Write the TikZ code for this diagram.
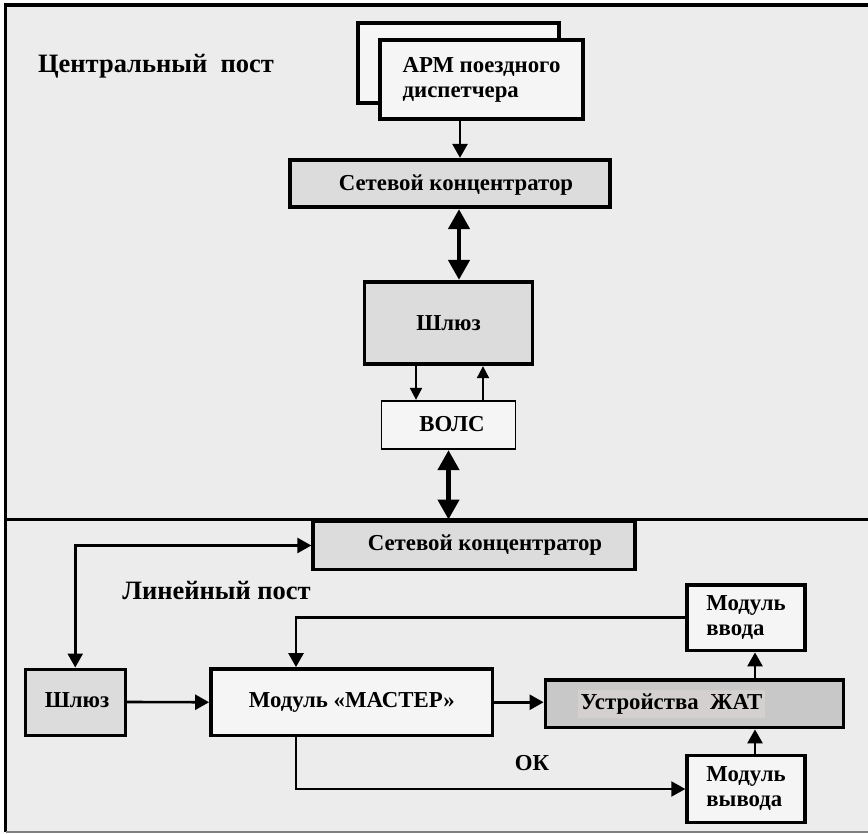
\documentclass[tikz,border=0pt]{standalone}
\usepackage{fontspec}
\setmainfont{Liberation Serif}
\usetikzlibrary{arrows.meta}
\definecolor{panel}{HTML}{ECECEC}
\definecolor{light}{HTML}{F5F5F5}
\definecolor{hubfill}{HTML}{DCDCDC}
\definecolor{jatfill}{HTML}{C8C8C8}
\definecolor{jathl}{HTML}{D4D0CF}
\definecolor{rimgray}{HTML}{808080}
\begin{document}
\begin{tikzpicture}[x=1pt,y=-1pt,
  every node/.style={font=\fontsize{22.8}{25}\selectfont\bfseries, inner sep=0pt},
  heading/.style={font=\fontsize{26.5}{30}\selectfont\bfseries},
  blk/.style={draw, line width=3.8pt},
  thinblk/.style={draw, line width=1.8pt},
  conn/.style={line width=2.6pt, -{Triangle[length=14pt,width=15pt]}},
  conn2/.style={line width=2pt, -{Triangle[length=14pt,width=15pt]}},
  small/.style={line width=2pt, -{Triangle[length=12pt,width=12pt]}},
  bigdbl/.style={line width=4.5pt, {Triangle[length=20pt,width=21pt]}-{Triangle[length=20pt,width=21pt]}},
  dbl/.style={line width=2.6pt, {Triangle[length=14pt,width=15pt]}-{Triangle[length=14pt,width=15pt]}}]
\useasboundingbox (0,0) rectangle (868,834);

% panels of the two posts
\fill[panel] (6,5) rectangle (868,832);
\draw[line width=3.5pt, line join=miter] (868,5) -- (5.5,5) -- (5.5,832);
\draw[line width=2pt, rimgray] (5.5,832) -- (868,832);
\coordinate (divl) at (6,519.5);
\coordinate (divr) at (868,519.5);
\draw[line width=3pt] (divl) -- (divr);

% central post
\node[heading] (centr) at (156,66) {Центральный\ \ пост};
\node[blk, fill=light, minimum width=201pt, minimum height=80.5pt] (armback) at (458.5,63) {};
\node[blk, fill=light, minimum width=203pt, minimum height=79pt, align=left] (arm) at (481.5,79.5) {АРМ поездного\\диспетчера};
\node[blk, fill=hubfill, minimum width=320pt, minimum height=47.5pt] (hub1) at (450,183.5) {};
\node (hub1lbl) at (456,185) {Сетевой концентратор};
\node[blk, fill=hubfill, minimum width=168pt, minimum height=82.5pt] (gw1) at (448.5,323) {Шлюз};
\node[thinblk, fill=light, minimum width=134pt, minimum height=48.5pt] (volc) at (448.5,425) {};
\node (volclbl) at (452,424) {ВОЛС};

\draw[conn] ([xshift=-21.5pt]arm.south) -- ([xshift=-21.5pt]arm.south |- hub1.north);
\draw[bigdbl] ([xshift=9pt]hub1.south) -- ([xshift=9pt]hub1.south |- gw1.north);
\draw[small] ([xshift=-32.5pt]gw1.south) -- ([xshift=-32.5pt]gw1.south |- volc.north);
\draw[small] ([xshift=34.5pt]gw1.south |- volc.north) -- ([xshift=34.5pt]gw1.south);
\draw[bigdbl] (volc.south) -- (volc.south |- divl);

% line post
\node[blk, fill=hubfill, minimum width=321.5pt, minimum height=48pt] (hub2) at (474,545.5) {};
\node (hub2lbl) at (485,545) {Сетевой концентратор};
\node[heading] (linlbl) at (216.5,591) {Линейный пост};
\node[blk, line width=3pt, fill=hubfill, minimum width=100.5pt, minimum height=66pt] (gw2) at (75.25,702) {};
\node (gw2lbl) at (77,700) {Шлюз};
\node[blk, fill=light, minimum width=281.5pt, minimum height=66.5pt] (master) at (351.75,702.25) {Модуль «МАСТЕР»};
\node[blk, fill=jatfill, minimum width=298pt, minimum height=47.5pt] (jat) at (694.5,703.75) {};
\node[fill=jathl, inner xsep=3pt, inner ysep=4pt] (jatlbl) at (671.5,704) {Устройства\ \ ЖАТ};
\node[blk, fill=light, minimum width=117.5pt, minimum height=65.5pt, align=left] (vvod) at (746,617.75) {Модуль\\ввода};
\node[blk, fill=light, minimum width=117.5pt, minimum height=67pt, align=left] (vyvod) at (746,789) {Модуль\\вывода};
\node (ok) at (532,763) {ОК};

\draw[dbl] (gw2.north) |- (hub2.west);
\draw[conn] (gw2.east) -- (master.west);
\draw[conn] (master.east) -- (master.east -| jat.west);
\draw[conn] (vvod.west) -| ([xshift=-55.75pt]master.north);
\draw[conn2] ([xshift=-55.75pt]master.south) |- (vyvod.west);
\draw[conn] ([xshift=9pt]vvod.south |- jat.north) -- ([xshift=9pt]vvod.south);
\draw[conn] ([xshift=9pt]vyvod.north) -- ([xshift=9pt]vyvod.north |- jat.south);
\end{tikzpicture}
\end{document}
